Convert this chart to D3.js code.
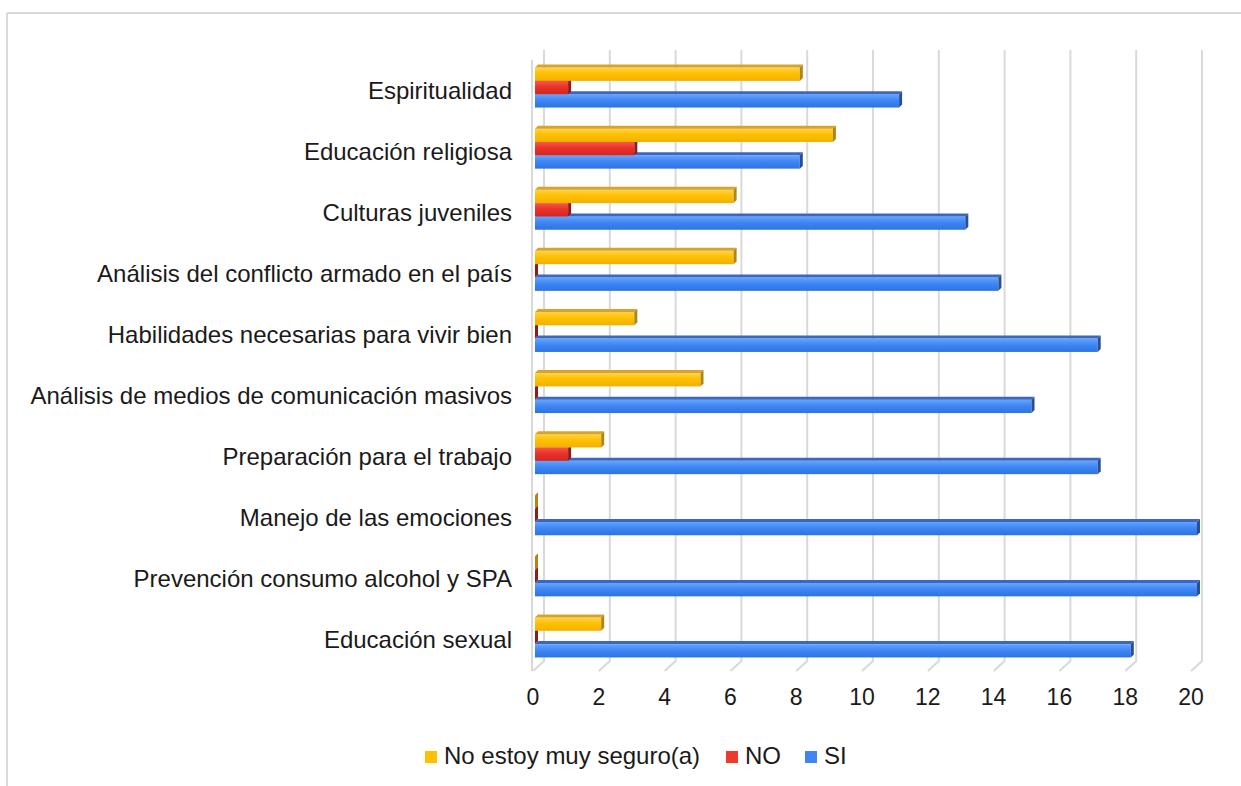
<!DOCTYPE html>
<html>
<head>
<meta charset="utf-8">
<script src="https://cdn.jsdelivr.net/npm/d3@7/dist/d3.min.js"></script>
<style>
  html, body { margin: 0; padding: 0; background: #ffffff; }
  svg { display: block; }
  text { font-family: "Liberation Sans", Arial, sans-serif; fill: #1a1a1a; }
</style>
</head>
<body>
<svg id="chart" width="1241" height="786"></svg>
<script>
// ---- Data ----
const categories = [
  "Espiritualidad",
  "Educación religiosa",
  "Culturas juveniles",
  "Análisis del conflicto armado en el país",
  "Habilidades necesarias para vivir bien",
  "Análisis de medios de comunicación masivos",
  "Preparación para el trabajo",
  "Manejo de las emociones",
  "Prevención consumo alcohol y SPA",
  "Educación sexual"
];
const seriesNames = ["No estoy muy seguro(a)", "NO", "SI"];
const noSeguroValues = [8, 9, 6, 6, 3, 5, 2, 0, 0, 2];
const noValues       = [1, 3, 1, 0, 0, 0, 1, 0, 0, 0];
const siValues       = [11, 8, 13, 14, 17, 15, 17, 20, 20, 18];
const tickValues = [0, 2, 4, 6, 8, 10, 12, 14, 16, 18, 20];

// ---- Styles ----
const palette = {
  "No estoy muy seguro(a)": { stops: ["#FFD34A", "#FFC000", "#F2B000"], top: "#D6A42A", side: "#B08514", legend: "#FFC000" },
  "NO": { stops: ["#F6594C", "#EA3329", "#D42620"], top: "#C23A30", side: "#8E1C18", legend: "#EE3A2E" },
  "SI": { stops: ["#66A4FF", "#3F87F5", "#2D73E2"], top: "#3B68BE", side: "#2A4D98", legend: "#3F86F0" }
};

const svg = d3.select("#chart");
const defs = svg.append("defs");
seriesNames.forEach((s, i) => {
  const g = defs.append("linearGradient").attr("id", "grad" + i)
    .attr("x1", 0).attr("y1", 0).attr("x2", 0).attr("y2", 1);
  g.append("stop").attr("offset", "0%").attr("stop-color", palette[s].stops[0]);
  g.append("stop").attr("offset", "45%").attr("stop-color", palette[s].stops[1]);
  g.append("stop").attr("offset", "100%").attr("stop-color", palette[s].stops[2]);
});

// Outer border (top & left visible)
svg.append("line").attr("x1", 7).attr("y1", 13).attr("x2", 1241).attr("y2", 13)
  .attr("stroke", "#d9d9d9").attr("stroke-width", 2);
svg.append("line").attr("x1", 7).attr("y1", 13).attr("x2", 7).attr("y2", 786)
  .attr("stroke", "#d9d9d9").attr("stroke-width", 2);

// ---- Scales ----
const depth = 11;             // 3D wall depth offset (x right, y up)
const xFront = d3.scaleLinear().domain([0, 20]).range([533, 1191]);
const xBack  = v => xFront(v) + depth;
const xBar   = d3.scaleLinear().domain([0, 20]).range([535, 1197]);
const yFront = d3.scaleBand().domain(categories).range([60, 671]).paddingInner(0).paddingOuter(0);
const ySeries = d3.scaleBand().domain(seriesNames).range([-23, 17]);
const backTop = 50, backBottom = 661, frontBottom = 671;

// Gridlines (back wall) with floor diagonals
const grid = svg.append("g");
tickValues.forEach(v => {
  grid.append("path")
    .attr("d", `M${xBack(v)},${backTop} L${xBack(v)},${backBottom} L${xFront(v)},${frontBottom}`)
    .attr("fill", "none").attr("stroke", "#d9d9d9").attr("stroke-width", 2);
});
// Left wall front edge
grid.append("line").attr("x1", xFront(0) - 1).attr("y1", 60).attr("x2", xFront(0) - 1).attr("y2", frontBottom)
  .attr("stroke", "#d9d9d9").attr("stroke-width", 2);

// Tick labels
svg.append("g").selectAll("text").data(tickValues).join("text")
  .attr("x", d => xFront(d)).attr("y", 705)
  .attr("text-anchor", "middle").attr("font-size", 23)
  .text(d => d);

// Category labels
svg.append("g").selectAll("text").data(categories).join("text")
  .attr("x", 512).attr("y", d => yFront(d) + yFront.bandwidth() / 2 + 8)
  .attr("text-anchor", "end").attr("font-size", 24)
  .text(d => d);

// ---- Bars ----
const valuesBySeries = {
  "No estoy muy seguro(a)": noSeguroValues,
  "NO": noValues,
  "SI": siValues
};
const d = 3; // bar depth
const bars = svg.append("g");
categories.forEach((cat, ci) => {
  const c = yFront(cat) + yFront.bandwidth() / 2;
  // draw bottom series first so the upper bars cover lower top faces
  ["SI", "NO", "No estoy muy seguro(a)"].forEach(s => {
    const si = seriesNames.indexOf(s);
    const v = valuesBySeries[s][ci];
    const x0 = xBar(0), x1 = xBar(v);
    const y0 = c + ySeries(s);
    const h = ySeries.bandwidth();
    const g = bars.append("g");
    if (v > 0) {
      g.append("rect").attr("x", x0).attr("y", y0).attr("width", x1 - x0).attr("height", h)
        .attr("fill", `url(#grad${si})`);
      g.append("polygon")
        .attr("points", `${x0},${y0} ${x0 + d},${y0 - d} ${x1 + d},${y0 - d} ${x1},${y0}`)
        .attr("fill", palette[s].top);
    }
    g.append("polygon")
      .attr("points", `${x1},${y0} ${x1 + d},${y0 - d} ${x1 + d},${y0 + h - d} ${x1},${y0 + h}`)
      .attr("fill", palette[s].side);
  });
});

// ---- Legend ----
const legendItems = [
  { name: "No estoy muy seguro(a)", x: 425 },
  { name: "NO", x: 726 },
  { name: "SI", x: 805 }
];
const legend = svg.append("g");
legendItems.forEach(it => {
  legend.append("rect").attr("x", it.x).attr("y", 751).attr("width", 12).attr("height", 12)
    .attr("fill", palette[it.name].legend);
  legend.append("text").attr("x", it.x + 19).attr("y", 764)
    .attr("font-size", 24).text(it.name);
});
</script>
</body>
</html>
